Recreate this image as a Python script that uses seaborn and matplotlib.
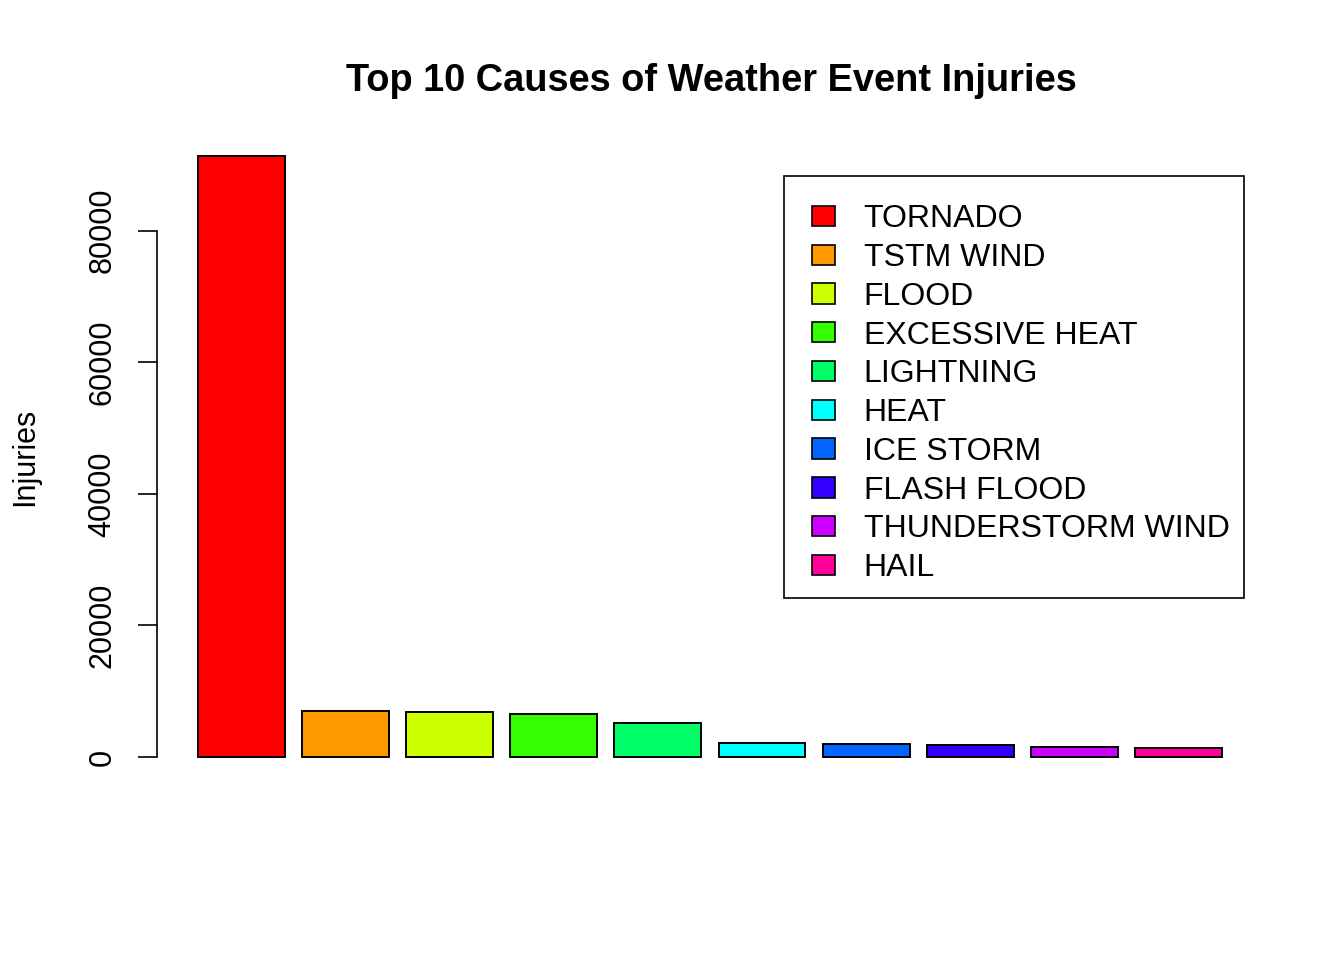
"""Top 10 Ursachen von Verletzungen durch Wetterereignisse."""
import seaborn as sns
import matplotlib.pyplot as plt
import pandas as pd
from matplotlib.patches import Patch, Rectangle
from matplotlib.legend_handler import HandlerPatch

events = ["TORNADO", "TSTM WIND", "FLOOD", "EXCESSIVE HEAT", "LIGHTNING",
          "HEAT", "ICE STORM", "FLASH FLOOD", "THUNDERSTORM WIND", "HAIL"]
injuries = [91346, 6957, 6789, 6525, 5230, 2100, 1975, 1777, 1488, 1361]
colors = ["#FF0000", "#FF9900", "#CCFF00", "#33FF00", "#00FF66",
          "#00FFFF", "#0066FF", "#3300FF", "#CC00FF", "#FF0099"]

sns.set_style("white")
plt.rcParams["font.family"] = ["Liberation Sans", "DejaVu Sans"]
for k in ["text.color", "axes.labelcolor", "xtick.color", "ytick.color"]:
    plt.rcParams[k] = "black"

df = pd.DataFrame({"event": events, "injuries": injuries})

fig = plt.figure(figsize=(13.44, 9.6), dpi=100)
ax = fig.add_axes([157 / 1344, 1 - 781 / 960, (1266 - 157) / 1344, (781 - 132) / 960])
sns.barplot(data=df, x="event", y="injuries", hue="event", palette=colors,
            width=1 / 1.2, edgecolor="black", linewidth=1.4, saturation=1,
            legend=False, ax=ax)

ax.set_xlim(-0.81, 9.84)
ax.set_ylim(-3654, 95000)
ax.set_xticks([])
ax.set_xlabel("")
ax.set_yticks([0, 20000, 40000, 60000, 80000])
ax.set_yticklabels(["0", "20000", "40000", "60000", "80000"],
                   rotation=90, va="center", fontsize=22)
ax.tick_params(axis="y", direction="out", length=13.5, width=1.2, pad=15, left=True)
for s in ["top", "right", "bottom"]:
    ax.spines[s].set_visible(False)
ax.spines["left"].set_bounds(0, 80000)
ax.spines["left"].set_linewidth(1.2)
ax.spines["left"].set_color("black")
ax.set_ylabel("Injuries", fontsize=22, labelpad=34)

fig.suptitle("Top 10 Causes of Weather Event Injuries", fontsize=27.4,
             fontweight="bold", x=(157 + 1266) / 2 / 1344, y=1 - 81 / 960, va="center")


# Quadrat rechtsbuendig im Handle-Bereich, damit links mehr Rand bleibt
def square(legend, orig_handle, xdescent, ydescent, width, height, fontsize):
    w = 16.6
    return Rectangle((-xdescent + width - w, -ydescent), w, height)


handles = [Patch(facecolor=c, edgecolor="black", linewidth=1.2) for c in colors]
leg = ax.legend(handles, events, loc="upper right", fontsize=23, frameon=True,
                fancybox=False, edgecolor="black", framealpha=1,
                handlelength=1.13, handleheight=0.6, handletextpad=0.91,
                labelspacing=0.275, borderpad=0.45, borderaxespad=0,
                title=" ", title_fontsize=4,
                handler_map={Patch: HandlerPatch(patch_func=square)},
                bbox_to_anchor=(1244 / 1344, 1 - 176 / 960), bbox_transform=fig.transFigure)
leg.get_frame().set_linewidth(1.2)

plt.savefig("out.png", dpi=100)
